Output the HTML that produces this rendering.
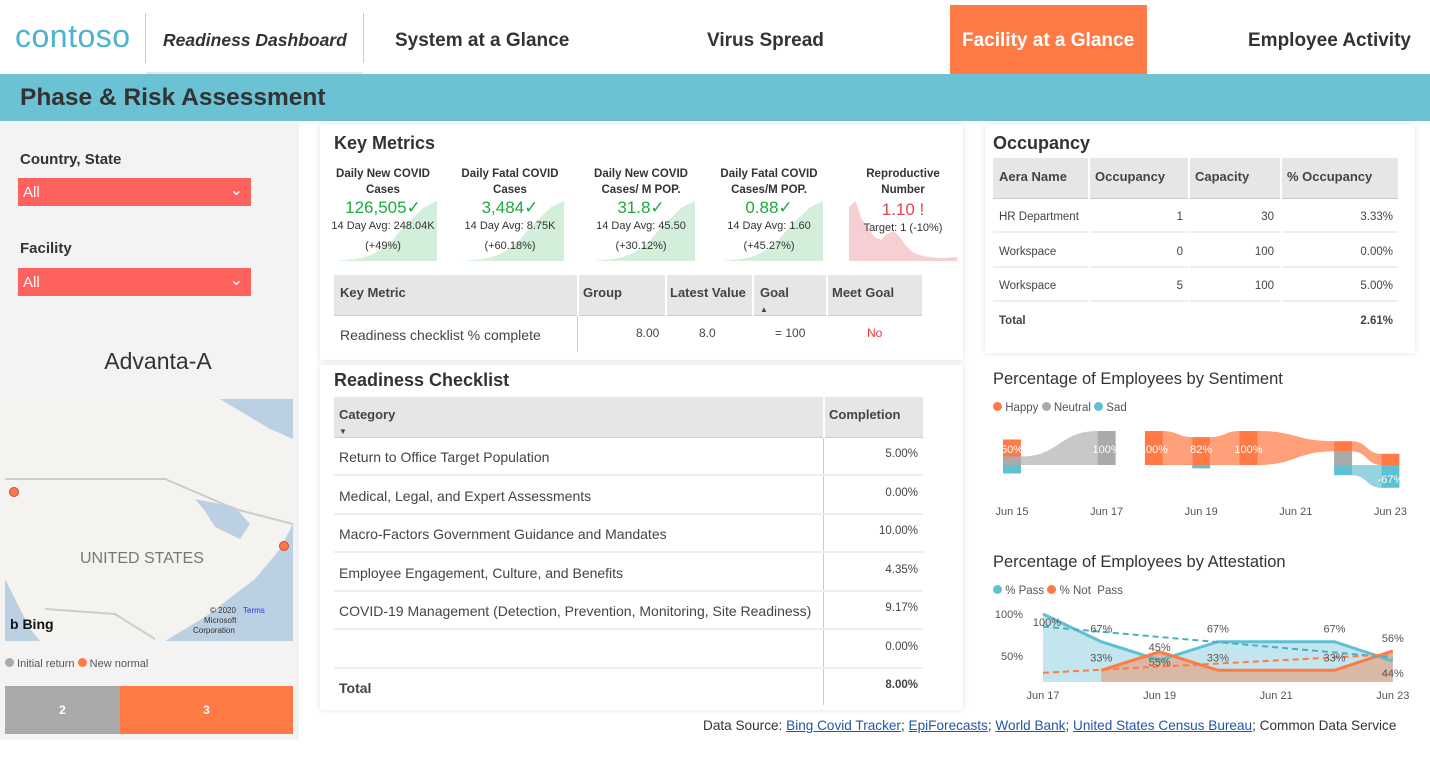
<!DOCTYPE html>
<html><head><meta charset="utf-8">
<style>
*{box-sizing:border-box;margin:0;padding:0}
body{width:1430px;height:760px;overflow:hidden;background:#fff;font-family:"Liberation Sans","DejaVu Sans",sans-serif;color:#333;position:relative}
.a{position:absolute}
.b{font-weight:bold}
.card{position:absolute;background:#fff;box-shadow:0 0 6px rgba(0,0,0,0.12)}
.th{position:absolute;background:#e6e6e6;font-weight:bold;font-size:13px;color:#444}
.cell{position:absolute;font-size:13px;color:#444;white-space:nowrap}
.kpi{position:absolute;width:108px;height:96px;text-align:center;font-size:11px;color:#333}
.kpi .t{font-weight:bold;font-size:11.5px;line-height:16px;position:relative}
.kpi .v{font-size:17px;color:#1aab40;position:relative;line-height:20px}
.kpi .s{position:relative;line-height:16px;font-size:11px}
.kpi svg{position:absolute;left:0;top:0}
</style></head><body>
<!-- header -->
<div class="a" style="left:0;top:0;width:1430px;height:74px;background:#fff"></div>
<div class="a" style="left:15px;top:18px;font-size:32px;color:#4bb3cc;letter-spacing:0.5px">contoso</div>
<div class="a" style="left:145px;top:13px;width:1px;height:50px;background:#ccc"></div>
<div class="a" style="left:363px;top:13px;width:1px;height:50px;background:#ccc"></div>
<div class="a" style="left:146px;top:72px;width:217px;height:2px;background:#e8e8e8"></div>
<div class="a b" style="left:163px;top:30px;font-size:17.5px;font-style:italic;color:#333">Readiness Dashboard</div>
<div class="a b" style="left:395px;top:30px;font-size:19px;color:#333">System at a Glance</div>
<div class="a b" style="left:707px;top:30px;font-size:19px;color:#333">Virus Spread</div>
<div class="a" style="left:950px;top:5px;width:197px;height:69px;background:#ff7a45"></div>
<div class="a b" style="left:962px;top:30px;font-size:19px;color:#fff">Facility at a Glance</div>
<div class="a b" style="left:1248px;top:30px;font-size:19px;color:#333">Employee Activity</div>
<div class="a" style="left:0;top:74px;width:1430px;height:47px;background:#6ac2d4"></div>
<div class="a b" style="left:20px;top:84px;font-size:24.5px;color:#333">Phase &amp; Risk Assessment</div>

<!-- left panel -->
<div class="a" style="left:0;top:121px;width:299px;height:619px;background:#f3f3f3"></div>
<div class="a b" style="left:20px;top:151px;font-size:15px">Country, State</div>
<div class="a" style="left:18px;top:178px;width:233px;height:28px;background:#fd625e;color:#fff;font-size:15px;padding:6px 0 0 5px">All<span style="position:absolute;right:8px;top:2px;font-size:16px">&#8964;</span></div>
<div class="a b" style="left:20px;top:240px;font-size:15px">Facility</div>
<div class="a" style="left:18px;top:268px;width:233px;height:28px;background:#fd625e;color:#fff;font-size:15px;padding:6px 0 0 5px">All<span style="position:absolute;right:8px;top:2px;font-size:16px">&#8964;</span></div>
<div class="a" style="left:0;width:316px;top:348px;text-align:center;font-size:23px;color:#333">Advanta-A</div>
<svg class="a" style="left:5px;top:399px" width="288" height="242">
<rect width="288" height="242" fill="#f5f3f0"/>
<path d="M215 0 L288 0 L288 40 L265 30 Z" fill="#bcd0e3"/>
<path d="M190 100 L230 108 L245 125 L235 140 L210 128 L200 112 Z" fill="#bcd0e3"/>
<path d="M288 125 L288 242 L160 242 L200 218 L250 180 L275 150 Z" fill="#bcd0e3"/>
<path d="M0 180 L25 230 L35 242 L0 242 Z" fill="#bcd0e3"/>
<path d="M0 80 L160 80 L230 110 L288 125" stroke="#ccc" stroke-width="2" fill="none"/>
<path d="M40 210 L110 215 L150 240" stroke="#ccc" stroke-width="2" fill="none"/>
<text x="75" y="164" font-size="16" fill="#777" font-family="Liberation Sans">UNITED STATES</text>
<text x="5" y="230" font-size="14" fill="#111" font-family="Liberation Sans" font-weight="bold">b Bing</text>
<text x="205" y="214" font-size="8" fill="#333" font-family="Liberation Sans">© 2020</text>
<text x="238" y="214" font-size="8" fill="#33c" font-family="Liberation Sans">Terms</text>
<text x="199" y="224" font-size="8" fill="#333" font-family="Liberation Sans">Microsoft</text>
<text x="188" y="234" font-size="8" fill="#333" font-family="Liberation Sans">Corporation</text>
<circle cx="9" cy="93" r="4.5" fill="#ff7a45" stroke="#c44"/>
<circle cx="279" cy="147" r="4.5" fill="#ff7a45" stroke="#c44"/>
</svg>
<div class="a" style="left:5px;top:658px;font-size:11px;color:#555"><span style="display:inline-block;width:9px;height:9px;border-radius:50%;background:#aaa"></span> Initial return <span style="display:inline-block;width:9px;height:9px;border-radius:50%;background:#ff7a45"></span> New normal</div>
<div class="a b" style="left:5px;top:686px;width:115px;height:48px;background:#aaa;color:#fff;font-size:12px;text-align:center;line-height:48px">2</div>
<div class="a b" style="left:120px;top:686px;width:173px;height:48px;background:#ff7a45;color:#fff;font-size:12px;text-align:center;line-height:48px">3</div>

<!-- key metrics card -->
<div class="card" style="left:320px;top:125px;width:643px;height:235px"></div>
<div class="a b" style="left:334px;top:133px;font-size:18px">Key Metrics</div>
<div id="kpis"></div>

<div class="th" style="left:334px;top:275px;width:588px;height:41px;border-bottom:1px solid #ccc"></div>
<div class="cell b" style="left:340px;top:285px">Key Metric</div>
<div class="cell b" style="left:583px;top:285px">Group</div>
<div class="cell b" style="left:670px;top:285px">Latest Value</div>
<div class="cell b" style="left:760px;top:285px">Goal<br><span style="font-size:8px">▲</span></div>
<div class="cell b" style="left:832px;top:285px">Meet Goal</div>
<div class="a" style="left:577px;top:275px;width:2px;height:77px;background:#fff"></div>
<div class="a" style="left:577px;top:316px;width:1px;height:36px;background:#ccc"></div>
<div class="a" style="left:665px;top:275px;width:2px;height:77px;background:#fff"></div>
<div class="a" style="left:752px;top:275px;width:2px;height:77px;background:#fff"></div>
<div class="a" style="left:826px;top:275px;width:2px;height:77px;background:#fff"></div>
<div class="cell" style="left:340px;top:327px;font-size:14px">Readiness checklist % complete</div>
<div class="cell" style="left:636px;top:326px;font-size:12px">8.00</div>
<div class="cell" style="left:699px;top:326px;font-size:12px">8.0</div>
<div class="cell" style="left:775px;top:326px;font-size:12px">= 100</div>
<div class="cell" style="left:867px;top:326px;font-size:12px;color:#f33">No</div>

<!-- readiness checklist -->
<div class="card" style="left:320px;top:365px;width:643px;height:345px"></div>
<div class="a b" style="left:334px;top:370px;font-size:18px">Readiness Checklist</div>
<div class="th" style="left:334px;top:397px;width:589px;height:41px;border-bottom:1px solid #ccc"></div>
<div class="a" style="left:823px;top:397px;width:2px;height:41px;background:#fff"></div>
<div class="cell b" style="left:339px;top:407px">Category<br><span style="font-size:8px">▼</span></div>
<div class="cell b" style="left:829px;top:407px">Completion</div>
<div class="a" style="left:823px;top:438px;width:1px;height:267px;background:#ccc"></div>
<div id="checklist"></div>

<!-- occupancy -->
<div class="card" style="left:985px;top:125px;width:430px;height:228px"></div>
<div class="a b" style="left:993px;top:133px;font-size:18px">Occupancy</div>
<div class="th" style="left:993px;top:158px;width:405px;height:41px;border-bottom:1px solid #ccc"></div>
<div class="cell b" style="left:999px;top:169px">Aera Name</div>
<div class="cell b" style="left:1095px;top:169px">Occupancy</div>
<div class="cell b" style="left:1195px;top:169px">Capacity</div>
<div class="cell b" style="left:1287px;top:169px">% Occupancy</div>
<div id="occ"></div>
<div class="a" style="left:1088px;top:158px;width:2px;height:178px;background:#fff"></div>
<div class="a" style="left:1188px;top:158px;width:2px;height:178px;background:#fff"></div>
<div class="a" style="left:1280px;top:158px;width:2px;height:178px;background:#fff"></div>

<!-- sentiment -->
<div class="a" style="left:993px;top:370px;font-size:16.5px">Percentage of Employees by Sentiment</div>
<div class="a" style="left:993px;top:402px;font-size:11.5px;color:#555"><span style="display:inline-block;width:9px;height:9px;border-radius:50%;background:#ff7a45"></span> Happy <span style="display:inline-block;width:9px;height:9px;border-radius:50%;background:#aaa"></span> Neutral <span style="display:inline-block;width:9px;height:9px;border-radius:50%;background:#5fc0d3"></span> Sad</div>
<svg id="sent" class="a" style="left:985px;top:420px" width="430" height="105"></svg>

<!-- attestation -->
<div class="a" style="left:993px;top:553px;font-size:16.5px">Percentage of Employees by Attestation</div>
<div class="a" style="left:993px;top:585px;font-size:11.5px;color:#555"><span style="display:inline-block;width:9px;height:9px;border-radius:50%;background:#5fc0d3"></span> % Pass <span style="display:inline-block;width:9px;height:9px;border-radius:50%;background:#ff7a45"></span> % Not &nbsp;Pass</div>
<svg id="att" class="a" style="left:985px;top:600px" width="430" height="105"></svg>

<div class="a" style="left:703px;top:718px;font-size:13.6px;color:#333">Data Source: <u style="color:#2255aa">Bing Covid Tracker</u>; <u style="color:#2255aa">EpiForecasts</u>; <u style="color:#2255aa">World Bank</u>; <u style="color:#2255aa">United States Census Bureau</u>; Common Data Service</div>

<script>
// KPI cards
const kpiTitles=["Daily New COVID<br>Cases","Daily Fatal COVID<br>Cases","Daily New COVID<br>Cases/ M POP.","Daily Fatal COVID<br>Cases/M POP.","Reproductive<br>Number"];
const kpiValues=["126,505✓","3,484✓","31.8✓","0.88✓","1.10 !"];
const kpiSub=["14 Day Avg: 248.04K","14 Day Avg: 8.75K","14 Day Avg: 45.50","14 Day Avg: 1.60","Target: 1 (-10%)"];
const kpiChg=["(+49%)","(+60.18%)","(+30.12%)","(+45.27%)",""];
const sparkGrowth=[0,0,1,2,3,5,8,12,18,25,35,48,60,70,80,90,95,100];
const sparkRepro=[90,100,70,55,40,35,45,50,40,25,15,10,8,6,5,5,6,6];
const kx=[329,456,587,715,849];
const kpiWrap=document.getElementById('kpis');
kpiTitles.forEach((t,i)=>{
  const d=document.createElement('div');d.className='kpi';
  
  
  d.style.left=kx[i]+'px';d.style.top='166px';
  const sp=i===4?sparkRepro:sparkGrowth;
  const w=108,h=60;
  let pts=`0,${95} `+sp.map((v,j)=>`${(j/(sp.length-1)*w).toFixed(1)},${(95-v/100*h).toFixed(1)}`).join(' ')+` ${w},95`;
  const col=i===4?'#f6cfd3':'#d3efd9';
  d.innerHTML=`<svg width="108" height="96"><polygon points="${pts}" fill="${col}"/></svg><div class="t">${t}</div><div class="v" style="${i===4?'color:#e8424f;margin-top:2px':''}">${kpiValues[i]}</div><div class="s">${kpiSub[i]}</div><div class="s" style="margin-top:4px">${kpiChg[i]}</div>`;
  kpiWrap.appendChild(d);
});

// checklist
const checkCats=["Return to Office Target Population","Medical, Legal, and Expert Assessments","Macro-Factors Government Guidance and Mandates","Employee Engagement, Culture, and Benefits","COVID-19 Management (Detection, Prevention, Monitoring, Site Readiness)","","Total"];
const checkVals=["5.00%","0.00%","10.00%","4.35%","9.17%","0.00%","8.00%"];
const cw=document.getElementById('checklist');
checkCats.forEach((c,i)=>{
  const y=438+i*38.5;
  const r=document.createElement('div');r.className='a';
  
  
  r.style.cssText=`left:334px;top:${y}px;width:589px;height:38px;${i<6?'border-bottom:2px solid #eee':''}`;
  r.innerHTML=`<div class="cell" style="left:5px;top:11px;font-size:14px;${i==6?'font-weight:bold':''}">${c}</div><div class="cell" style="right:5px;top:10px;font-size:11.5px;${i==6?'font-weight:bold':''}">${checkVals[i]}</div>`;
  cw.appendChild(r);
});

// occupancy
const occNames=["HR Department","Workspace","Workspace","Total"];
const occVals=["1","0","5",""];
const occCap=["30","100","100",""];
const occPct=["3.33%","0.00%","5.00%","2.61%"];
const ow=document.getElementById('occ');
occNames.forEach((n,i)=>{
  const y=199+i*34.5;
  const r=document.createElement('div');r.className='a';
  
  
  r.style.cssText=`left:993px;top:${y}px;width:405px;height:34px;${i<3?'border-bottom:2px solid #eee':''}`;
  const b=i==3?'font-weight:bold;':'';
  r.innerHTML=`<div class="cell" style="${b}left:6px;top:12px;font-size:11.5px">${n}</div><div class="cell" style="right:215px;top:12px;font-size:11.5px">${occVals[i]}</div><div class="cell" style="right:124px;top:12px;font-size:11.5px">${occCap[i]}</div><div class="cell" style="${b}right:5px;top:12px;font-size:11.5px">${occPct[i]}</div>`;
  ow.appendChild(r);
});

const NS='http://www.w3.org/2000/svg';
function el(p,tag,attrs){const e=document.createElementNS(NS,tag);for(const k in attrs)e.setAttribute(k,attrs[k]);p.appendChild(e);return e;}

// sentiment ribbon
const sentDays=[15,17,18,19,20,22,23];
const sentHappy=[50,0,100,82,100,30,33];
const sentNeutral=[25,100,0,0,0,40,0];
const sentSad=[25,0,0,10,0,30,67];
const sentLabels=["50%","100%","100%","82%","100%",""," -67%"];
const sentTicks=[15,17,19,21,23];
(function(){
  const s=document.getElementById('sent');
  const sx=d=>1012-985+(d-15)*47.3;
  const base=45, k=0.34, bw=18;
  const seg=i=>({
    n:[base-sentNeutral[i]*k,base],
    h:[base-(sentNeutral[i]+sentHappy[i])*k,base-sentNeutral[i]*k],
    s:[base,base+sentSad[i]*k]});
  const series=[['n',sentNeutral,'#c8c8c8','#aaa'],['h',sentHappy,'#ffa07a','#ff7a45'],['s',sentSad,'#96d3e0','#5fc0d3']];
  for(let i=0;i<sentDays.length-1;i++){
    series.forEach(([key,arr,light])=>{
      if(arr[i]>0&&arr[i+1]>0){
        const a=seg(i)[key],b=seg(i+1)[key];
        const x1=sx(sentDays[i])+bw/2,x2=sx(sentDays[i+1])-bw/2,m=(x1+x2)/2;
        const p=el(s,'path',{d:`M${x1},${a[0]} C${m},${a[0]} ${m},${b[0]} ${x2},${b[0]} L${x2},${b[1]} C${m},${b[1]} ${m},${a[1]} ${x1},${a[1]} Z`,fill:light});
        
        
      }
    });
  }
  sentDays.forEach((d,i)=>{
    series.forEach(([key,arr,light,dark])=>{
      if(arr[i]>0){const g=seg(i)[key];
        const r=el(s,'rect',{x:sx(d)-bw/2,y:g[0],width:bw,height:g[1]-g[0],fill:dark});
        
        }
    });
    if(sentLabels[i]){const t=el(s,'text',{x:sx(d),y:sentLabels[i].includes('-')?base+18:base-12,'text-anchor':'middle','font-size':11,fill:'#fff','font-family':'Liberation Sans'});t.textContent=sentLabels[i];}
  });
  sentTicks.forEach(d=>{const t=el(s,'text',{x:sx(d),y:95,'text-anchor':'middle','font-size':11,fill:'#555','font-family':'Liberation Sans'});t.textContent='Jun '+d;});
})();

// attestation
const attDays=[17,18,19,20,21,22,23];
const attPass=[100,67,45,67,67,67,44];
const attNotPass=[null,33,55,33,33,33,56];
const attPassTrend=[85,48];
const attNotTrend=[30,52];
const attPassLabels=["100%","67%","45%","67%","","67%","44%"];
const attNotLabels=["","33%","55%","33%","","33%","56%"];
const attYTicks=[100,50];
const attXTicks=[17,19,21,23];
(function(){
  const s=document.getElementById('att');
  const sx=d=>1043-985+(d-17)*58.3;
  const sy=v=>98-v*0.84;
  const bot=82;
  const F='Liberation Sans';
  attYTicks.forEach(v=>{const t=el(s,'text',{x:38,y:sy(v)+4,'text-anchor':'end','font-size':11,fill:'#555','font-family':F});t.textContent=v+'%';});
  attXTicks.forEach(d=>{const t=el(s,'text',{x:sx(d),y:99,'text-anchor':'middle','font-size':11,fill:'#555','font-family':F});t.textContent='Jun '+d;});
  let pp=attDays.map((d,i)=>`${sx(d)},${sy(attPass[i])}`);
  el(s,'polygon',{points:`${sx(attDays[0])},${bot} ${pp.join(' ')} ${sx(attDays[6])},${bot}`,fill:'#c3e5ee'});
  const ni=attDays.map((d,i)=>i).filter(i=>attNotPass[i]!=null);
  let np=ni.map(i=>`${sx(attDays[i])},${sy(attNotPass[i])}`);
  el(s,'polygon',{points:`${sx(attDays[ni[0]])},${bot} ${np.join(' ')} ${sx(attDays[6])},${bot}`,fill:'#d9b8a5'});
  const l1=el(s,'polyline',{points:pp.join(' '),fill:'none',stroke:'#5fc0d3','stroke-width':3});
  
  
  const l2=el(s,'polyline',{points:np.join(' '),fill:'none',stroke:'#ff7a45','stroke-width':3});
  
  
  el(s,'line',{x1:sx(17),y1:sy(attPassTrend[0]),x2:sx(23),y2:sy(attPassTrend[1]),stroke:'#4aaec4','stroke-width':2,'stroke-dasharray':'6,4'});
  el(s,'line',{x1:sx(17),y1:sy(attNotTrend[0]),x2:sx(23),y2:sy(attNotTrend[1]),stroke:'#ff7a45','stroke-width':2,'stroke-dasharray':'6,4'});
  attDays.forEach((d,i)=>{
    if(attPassLabels[i]){const t=el(s,'text',{x:sx(d)+(i==0?4:0),y:i==6?sy(attPass[i])+16:(i==0?sy(attPass[i])+12:sy(attPass[i])-9),'text-anchor':'middle','font-size':11,fill:'#555','font-family':F});t.textContent=attPassLabels[i];}
    if(attNotLabels[i]){const t=el(s,'text',{x:sx(d),y:i==2?sy(attNotPass[i])+14:sy(attNotPass[i])-9,'text-anchor':'middle','font-size':11,fill:'#555','font-family':F});t.textContent=attNotLabels[i];}
  });
})();
</script>
</body></html>
